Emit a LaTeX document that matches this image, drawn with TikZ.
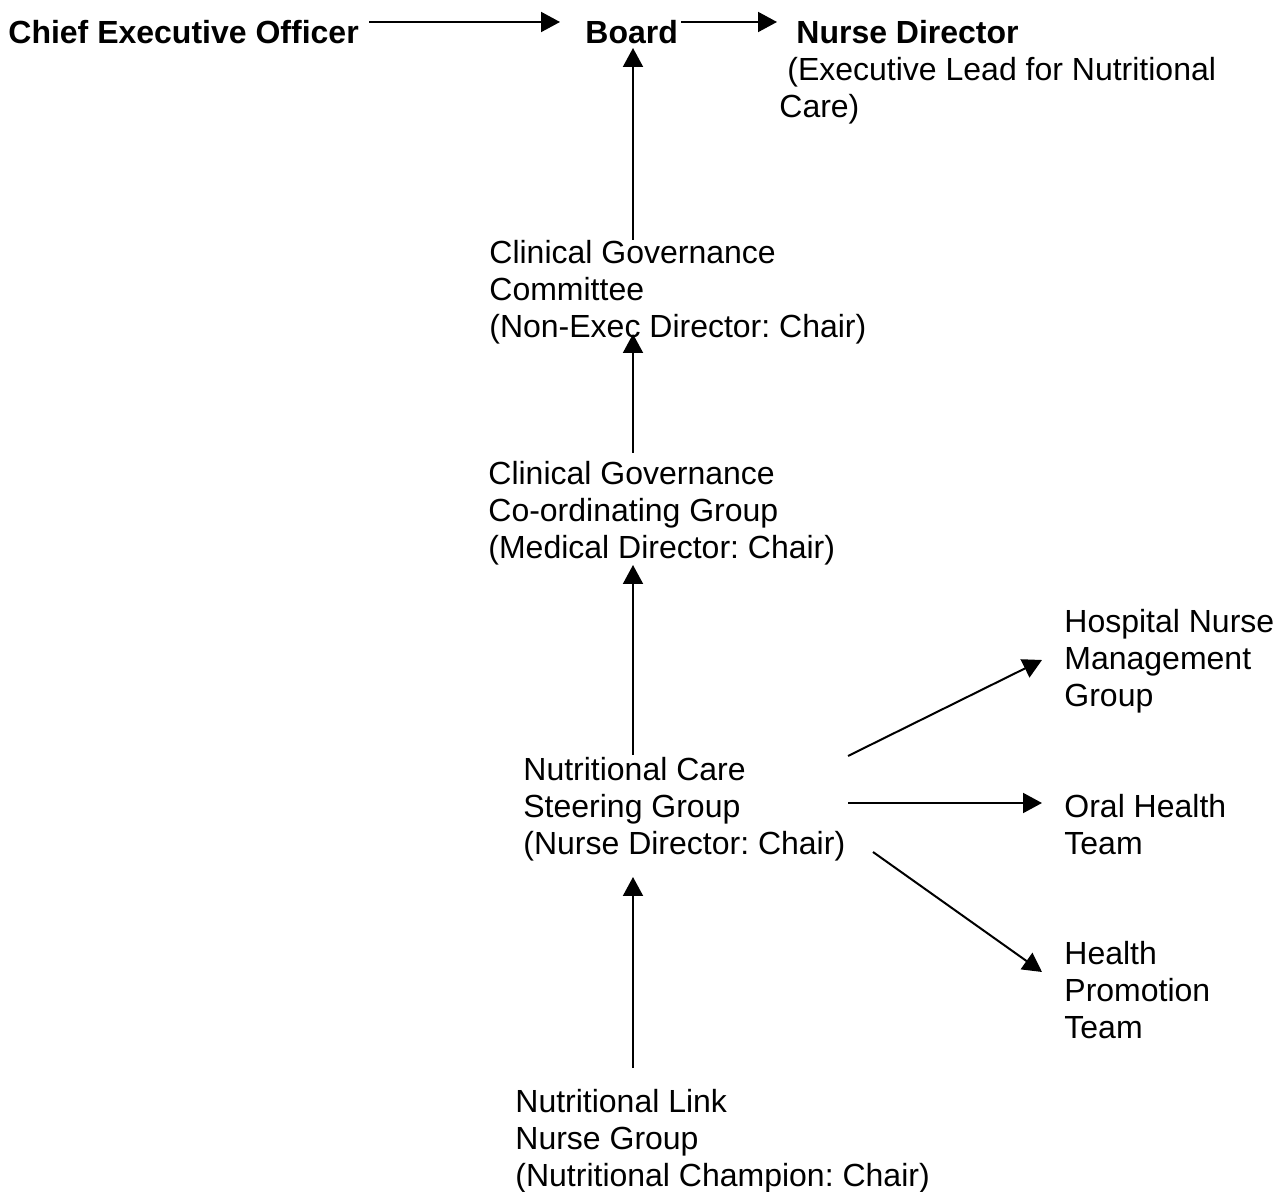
\documentclass[tikz,border=0pt]{standalone}
\usepackage{fontspec}
\setmainfont{Liberation Sans}
\frenchspacing
\usetikzlibrary{arrows.meta}
\begin{document}
\begin{tikzpicture}[x=0.5pt, y=-0.5pt, >={Triangle[length=9.5pt,width=10pt]},
  lbl/.style={anchor=north west, align=left, inner sep=0pt, font=\fontsize{16}{18.5}\selectfont},
  head/.style={lbl, font=\fontsize{16}{18.5}\selectfont\bfseries},
  link/.style={->, line width=1pt}]
\useasboundingbox (0,0) rectangle (1287,1192);

\node[head] (ceo) at (8,17) {\strut Chief Executive Officer};
\node[head] (board) at (585,17) {\strut Board};
\node[lbl] (nursedir) at (779,17) {\strut\hspace*{8.5pt}\textbf{Nurse Director}\\\hspace*{4pt}(Executive Lead for Nutritional\\Care)};
\node[lbl] (cgc) at (489,237) {\strut Clinical Governance\\Committee\\(Non-Exec Director: Chair)};
\node[lbl] (cgcg) at (488,458) {\strut Clinical Governance\\Co-ordinating Group\\(Medical Director: Chair)};
\node[lbl] (ncsg) at (523,754) {\strut Nutritional Care\\Steering Group\\(Nurse Director: Chair)};
\node[lbl] (nlng) at (515,1086) {\strut Nutritional Link\\Nurse Group\\(Nutritional Champion: Chair)};
\node[lbl] (hnmg) at (1064,606) {\strut Hospital Nurse\\Management\\Group};
\node[lbl] (oht) at (1064,791) {\strut Oral Health\\Team};
\node[lbl] (hpt) at (1064,938) {\strut Health\\Promotion\\Team};

% arrow ends
\coordinate (ceo-out) at (369,22);
\coordinate (board-in) at (560,22);
\coordinate (board-out) at (681,22);
\coordinate (nursedir-in) at (777,22);
\coordinate (board-up) at (633,48);
\coordinate (cgc-top) at (633,240);
\coordinate (cgc-up) at (633,334);
\coordinate (cgcg-top) at (633,453);
\coordinate (cgcg-up) at (633,565);
\coordinate (ncsg-top) at (633,755);
\coordinate (ncsg-up) at (633,877);
\coordinate (nlng-top) at (633,1068);
\coordinate (ncsg-r1) at (848,756);
\coordinate (ncsg-r2) at (848,803);
\coordinate (ncsg-r3) at (873,852);
\coordinate (hnmg-in) at (1042,660);
\coordinate (oht-in) at (1042,803);
\coordinate (hpt-in) at (1042,972);

\draw[link] (ceo-out) -- (board-in);
\draw[link] (board-out) -- (nursedir-in);
\draw[link] (cgc-top) -- (board-up);
\draw[link] (cgcg-top) -- (cgc-up);
\draw[link] (ncsg-top) -- (cgcg-up);
\draw[link] (nlng-top) -- (ncsg-up);
\draw[link] (ncsg-r1) -- (hnmg-in);
\draw[link] (ncsg-r2) -- (oht-in);
\draw[link] (ncsg-r3) -- (hpt-in);
\end{tikzpicture}
\end{document}
